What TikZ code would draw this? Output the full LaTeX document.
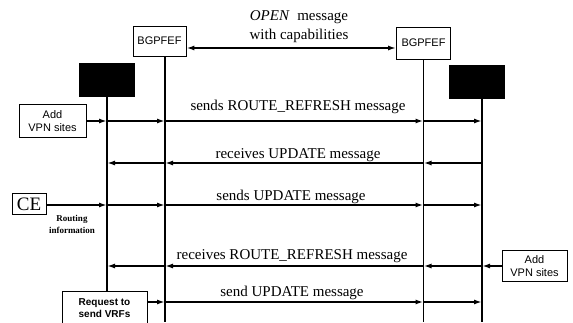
\documentclass[tikz,border=0pt]{standalone}
\usepackage{fontspec}
\setmainfont{Liberation Serif}
\newfontfamily\arialf{Liberation Sans}
\usetikzlibrary{arrows.meta}
\tikzset{
  boxnode/.style={draw, line width=0.8pt, inner sep=0pt, align=center,
    font=\arialf\fontsize{11}{12.5}\selectfont},
  blknode/.style={draw, fill=black, inner sep=0pt, minimum width=55pt, minimum height=33pt},
  lifeline/.style={line width=1.7pt},
  msg/.style={line width=1.7pt, -{Latex[length=8pt,width=5pt]}},
  msgboth/.style={line width=1.7pt, {Latex[length=8pt,width=5pt]}-{Latex[length=8pt,width=5pt]}},
  lbl/.style={inner sep=0pt, font=\fontsize{15}{19}\selectfont, align=center},
}
\begin{document}
\begin{tikzpicture}[x=1pt,y=-1pt]
\useasboundingbox (0,0) rectangle (573,322);
% boxes
\node[boxnode, minimum width=53pt, minimum height=30pt] (bgpL) at (159.5,41) {BGPFEF};
\node[boxnode, minimum width=54pt, minimum height=32pt] (bgpR) at (423.5,43) {BGPFEF};
\node[blknode] (blkL) at (107,79.5) {};
\node[blknode] (blkR) at (476.5,81.5) {};
\node[boxnode, minimum width=67pt, minimum height=33pt] (addL) at (52.5,121) {Add\\VPN sites};
\node[boxnode, minimum width=34pt, minimum height=21pt, font=\fontsize{19}{20}\selectfont] (ce) at (29,204) {CE};
\node[boxnode, minimum width=65pt, minimum height=31pt] (addR) at (534.5,266) {Add\\VPN sites};
\node[boxnode, anchor=north, minimum width=85pt, minimum height=50pt, text depth=17pt,
  font=\arialf\bfseries\fontsize{10}{12}\selectfont] (req) at (104.5,291) {Request to\\send VRFs};
% lifeline tops
\coordinate (tA) at (blkL.south);
\coordinate (tB) at ([xshift=5.5pt]bgpL.south);
\coordinate (tC) at (bgpR.south);
\coordinate (tD) at ([xshift=5.5pt]blkR.south);
\coordinate (bot) at (0,322);
% row heights
\coordinate (r0) at (0,48);
\coordinate (r1) at (0,121);
\coordinate (r2) at (0,163);
\coordinate (r3) at (0,205);
\coordinate (r4) at (0,266);
\coordinate (r5) at (0,302);
% lifelines
\draw[lifeline] (tA) -- (tA |- req.north);
\draw[lifeline] (tB) -- (tB |- bot);
\draw[lifeline] (tC) -- (tC |- bot);
\draw[lifeline] (tD) -- (tD |- bot);
% OPEN
\draw[msgboth] (bgpL.east |- r0) -- (bgpR.west |- r0);
\node[lbl] (lopen) at (299,26.5) {\textit{OPEN}\ \ message\\with capabilities};
% row 1
\draw[msg] (addL.east |- r1) -- (tA |- r1);
\draw[msg] (tA |- r1) -- (tB |- r1);
\draw[msg] (tB |- r1) -- (tC |- r1);
\draw[msg] (tC |- r1) -- (tD |- r1);
\node[lbl] (l1) at (298,107) {sends ROUTE\_REFRESH message};
% row 2
\draw[msg] (tD |- r2) -- (tC |- r2);
\draw[msg] (tC |- r2) -- (tB |- r2);
\draw[msg] (tB |- r2) -- (tA |- r2);
\node[lbl] (l2) at (298,155) {receives UPDATE message};
% row 3
\draw[msg] (ce.east |- r3) -- (tA |- r3);
\draw[msg] (tA |- r3) -- (tB |- r3);
\draw[msg] (tB |- r3) -- (tC |- r3);
\draw[msg] (tC |- r3) -- (tD |- r3);
\node[lbl] (l3) at (291,197) {sends UPDATE message};
\node[inner sep=0pt, align=center, font=\bfseries\fontsize{9}{12}\selectfont] (rout) at (72,224) {Routing\\information};
% row 4
\draw[msg] (addR.west |- r4) -- (tD |- r4);
\draw[msg] (tD |- r4) -- (tC |- r4);
\draw[msg] (tC |- r4) -- (tB |- r4);
\draw[msg] (tB |- r4) -- (tA |- r4);
\node[lbl] (l4) at (292,256) {receives ROUTE\_REFRESH message};
% row 5
\draw[msg] (req.east |- r5) -- (tB |- r5);
\draw[msg] (tB |- r5) -- (tC |- r5);
\draw[msg] (tC |- r5) -- (tD |- r5);
\node[lbl] (l5) at (292,293) {send UPDATE message};
\end{tikzpicture}
\end{document}
